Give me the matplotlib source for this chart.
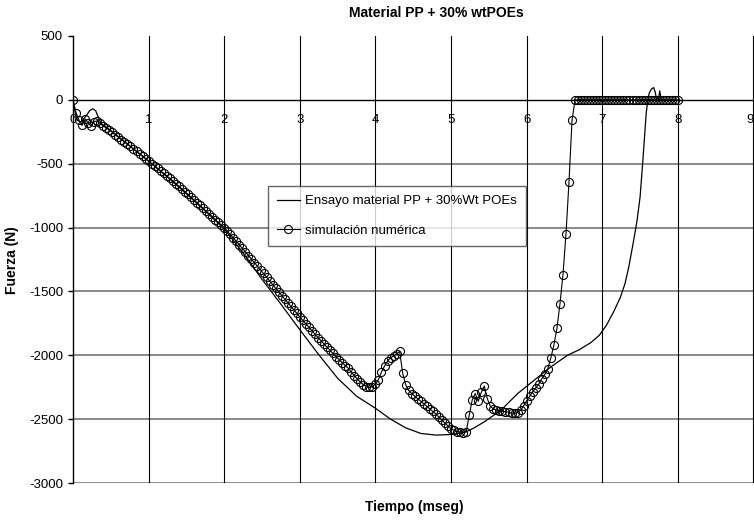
import numpy as np
import matplotlib
matplotlib.use("Agg")
import matplotlib.pyplot as plt

plt.rcParams['font.family'] = ['Liberation Sans', 'DejaVu Sans']

# ---------------- data ----------------
title = "Material PP + 30% wtPOEs"
xlabel = "Tiempo (mseg)"
ylabel = "Fuerza (N)"
label_exp = "Ensayo material PP + 30%Wt POEs"
label_sim = "simulación numérica"

x_ticks = [0, 1, 2, 3, 4, 5, 6, 7, 8, 9]
y_ticks = [500, 0, -500, -1000, -1500, -2000, -2500, -3000]

# experimental curve (time in mseg, force in N)
exp_t = [0.00, 0.03, 0.06, 0.10, 0.14, 0.18, 0.22, 0.26, 0.30, 0.33,
         0.37, 0.42, 0.50, 0.75, 1.00, 1.25, 1.50, 1.75, 2.00, 2.25,
         2.50, 2.75, 3.00, 3.25, 3.50, 3.75, 4.00, 4.20, 4.40, 4.60,
         4.80, 5.00, 5.10, 5.20, 5.30, 5.44, 5.66, 5.88, 6.10, 6.32,
         6.54, 6.70, 6.85, 6.96, 7.05, 7.15, 7.24, 7.30, 7.35, 7.40,
         7.46, 7.50, 7.53, 7.56, 7.58, 7.60, 7.62, 7.65, 7.68, 7.70,
         7.72, 7.74, 7.76, 7.78]
exp_f = [0, -100, -160, -175, -150, -120, -85, -70, -85, -130,
         -185, -205, -240, -360, -480, -605, -735, -870, -1010, -1200,
         -1405, -1600, -1800, -1995, -2180, -2320, -2415, -2500, -2568, -2612,
         -2625, -2620, -2612, -2598, -2570, -2521, -2430, -2300, -2195, -2091,
         -2000, -1955, -1900, -1844, -1770, -1660, -1545, -1440, -1310, -1150,
         -945, -760, -530, -280, -110, -10, 50, 85, 96, 60,
         0, -10, 70, 0]

# numerical simulation, sampled every 0.04 mseg from 0 to 8
sim_step = 0.04
sim_f = [
    0, -100, -160, -200, -150, -180, -205, -170, -165, -185, -205, -220, -235,
    -255, -275, -293, -312, -330, -348, -365, -385, -403, -422, -440, -460,
    -480, -499, -518, -537, -556, -576, -595, -615, -635, -655, -676, -697, -718,
    -740, -761, -783, -805, -827, -849, -871, -893, -915, -937, -958, -979,
    -1000, -1027, -1054, -1081, -1108, -1135, -1163, -1191, -1219, -1247, -1275,
    -1303, -1331, -1359, -1388, -1417, -1446, -1475, -1504, -1532, -1560, -1588,
    -1616, -1644, -1672,
    -1700, -1727, -1754, -1781, -1808, -1835, -1861, -1887, -1912, -1937, -1962,
    -1986, -2010, -2034, -2058, -2080, -2102, -2130, -2160, -2185, -2210, -2230,
    -2245, -2252, -2245,
    -2225, -2190, -2130, -2085, -2045, -2020, -2005, -1990, -1970, -2140, -2230,
    -2275, -2300, -2320, -2340, -2360, -2380, -2400, -2420, -2440, -2460, -2485,
    -2510, -2530, -2555,
    -2575, -2588, -2597, -2602, -2605, -2600, -2470, -2350, -2300, -2360, -2290,
    -2240, -2340, -2400, -2420, -2430, -2435, -2438, -2442, -2445, -2452, -2455,
    -2448, -2430, -2395,
    -2355, -2320, -2285, -2255, -2225, -2185, -2150, -2104, -2020, -1920, -1790,
    -1600, -1370, -1050, -640, -160, 0, 0, 0, 0, 0, 0, 0, 0, 0,
    0, 0, 0, 0, 0, 0, 0, 0, 0, 0, 0, 0, 0, 0, 0, 0, 0, 0, 0, 0, 0, 0, 0, 0, 0,
    0,
]
sim_t = np.round(np.arange(len(sim_f)) * sim_step, 2)

# ---------------- figure ----------------
W, H = 754, 521
fig = plt.figure(figsize=(W / 100, H / 100), dpi=100)
left_px, right_px, top_px, bottom_px = 73, 753.5, 36, 483
ax = fig.add_axes([left_px / W, 1 - bottom_px / H,
                   (right_px - left_px) / W, (bottom_px - top_px) / H])

ax.set_xlim(0, 9)
ax.set_ylim(-3000, 500)

# grid lines
for yv in y_ticks:
    if yv < 0:
        ax.axhline(yv, color='#808080', lw=1.3, zorder=1)
for xv in x_ticks[1:]:
    ax.axvline(xv, color='black', lw=0.8, zorder=1)

for s in ['top', 'right']:
    ax.spines[s].set_visible(False)
ax.spines['bottom'].set_position(('data', 0))
ax.spines['bottom'].set_linewidth(1.0)
ax.spines['left'].set_linewidth(1.0)
ax.spines['bottom'].set_zorder(2)

ax.set_xticks(x_ticks)
ax.set_xticklabels([str(v) for v in x_ticks])
ax.set_yticks(y_ticks)
ax.set_yticklabels([str(v) for v in y_ticks])
ax.tick_params(axis='x', length=0, pad=10, labelsize=9.5)
ax.tick_params(axis='y', length=3.6, width=1.0, pad=3.6, labelsize=9.5,
               direction='out')
# last x label sits at the right edge of the figure
ax.get_xticklabels()[-1].set_horizontalalignment('right')

ax.plot(exp_t, exp_f, color='black', lw=0.9, zorder=3, label=label_exp)
ax.plot(sim_t, sim_f, color='black', lw=0.8, marker='o', ms=5.8,
        mfc='none', mec='black', mew=0.8, zorder=4, label=label_sim)

leg = ax.legend(loc='upper left', bbox_to_anchor=(268 / W, 1 - 186 / H),
                bbox_transform=fig.transFigure, borderaxespad=0,
                frameon=True, fancybox=False, fontsize=9.5,
                handlelength=1.7, handletextpad=0.4, labelspacing=1.3,
                borderpad=0.7)
leg.get_frame().set_edgecolor('#404040')
leg.get_frame().set_linewidth(1.0)
leg.set_zorder(6)

fig.text(436 / W, 1 - 13 / H, title, ha='center', va='center',
         fontsize=10, fontweight='bold')
fig.text(414 / W, 1 - 507 / H, xlabel, ha='center', va='center',
         fontsize=10, fontweight='bold')
fig.text(12 / W, 1 - 260 / H, ylabel, ha='center', va='center',
         rotation=90, fontsize=10, fontweight='bold')

fig.savefig("out.png", dpi=100)
